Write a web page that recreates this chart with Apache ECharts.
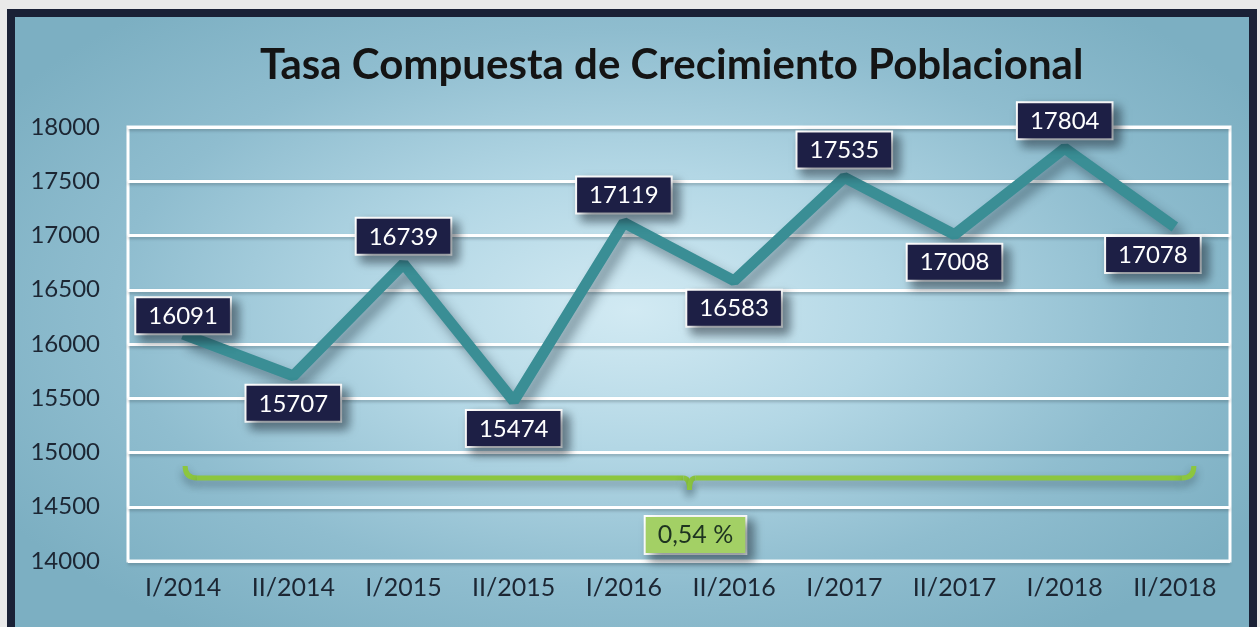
<!DOCTYPE html>
<html>
<head>
<meta charset="UTF-8">
<title>Tasa Compuesta de Crecimiento Poblacional</title>
<script type="text/javascript" src="https://cdn.jsdelivr.net/npm/echarts@6/dist/echarts.min.js"></script>
<style>
    *{margin:0;padding:0}
    html,body{width:100%;height:100%;background:#e9e9e9;overflow:hidden}
    #frame{
        position:absolute;left:7px;top:9px;width:1250px;height:640px;
        background:#1a2136;
    }
    #main{
        position:absolute;left:8px;top:8px;width:1234px;height:610px;
        background:radial-gradient(ellipse 60% 65% at 50% 48%, #d2eaf3 0%, #b3d7e5 35%, #8fbdcf 70%, #7cafc2 100%);
    }
</style>
</head>
<body>
<div id="frame"><div id="main"></div></div>
<script type="text/javascript">
    // datos
    var categorias = ['I/2014','II/2014','I/2015','II/2015','I/2016','II/2016','I/2017','II/2017','I/2018','II/2018'];
    var valores = [16091, 15707, 16739, 15474, 17119, 16583, 17535, 17008, 17804, 17078];
    var posiciones = ['top','bottom','top','bottom','top','bottom','top','bottom','top','bottom'];
    var tasa = '0,54 %';
    var nivelLlave = 14765;

    var fuente = 'Lato, "Open Sans", sans-serif';

    var datos = valores.map(function (v, i) {
        var item = {
            value: v,
            label: { position: posiciones[i], distance: 10 }
        };
        if (i === 0) item.label.distance = 1;
        if (i === 9) item.label.offset = [-22, 0];
        return item;
    });

    var option = {
        animation: false,
        title: {
            text: 'Tasa Compuesta de Crecimiento Poblacional',
            left: 240,
            top: 22,
            textStyle: { fontFamily: fuente, fontSize: 42, fontWeight: 'bold', color: '#141414' }
        },
        grid: {
            left: 113, right: 19, top: 110, bottom: 66,
            show: true, borderColor: '#ffffff', borderWidth: 3,
            backgroundColor: 'transparent'
        },
        xAxis: {
            type: 'category',
            data: categorias,
            boundaryGap: true,
            axisLine: { show: false },
            axisTick: { show: false },
            axisLabel: { fontFamily: fuente, fontSize: 25, color: '#1c2633', margin: 14 }
        },
        yAxis: {
            type: 'value',
            min: 14000, max: 18000, interval: 500,
            axisLine: { show: false },
            axisTick: { show: false },
            axisLabel: {
                fontFamily: fuente, fontSize: 24, color: '#1c2633', margin: 28,
                formatter: function (v) { return String(v); }
            },
            splitLine: {
                lineStyle: { color: '#ffffff', width: 3, shadowColor: 'rgba(60,80,90,0.35)', shadowBlur: 3, shadowOffsetY: 2 }
            }
        },
        series: [{
            type: 'line',
            data: datos,
            symbol: 'circle',
            symbolSize: 0,
            showSymbol: true,
            itemStyle: { color: '#3a8e95' },
            lineStyle: {
                color: '#3a8e95', width: 11,
                shadowColor: 'rgba(20,40,50,0.45)', shadowBlur: 12, shadowOffsetX: 6, shadowOffsetY: 8
            },
            label: {
                show: true,
                fontFamily: fuente, fontSize: 24, color: '#ffffff',
                backgroundColor: '#1d1f45',
                borderColor: '#ffffff', borderWidth: 2,
                padding: [6, 12, 5, 12],
                shadowColor: 'rgba(20,30,40,0.5)', shadowBlur: 10, shadowOffsetX: 6, shadowOffsetY: 6
            },
            z: 3
        }]
    };

    var myChart = echarts.init(document.getElementById('main'));
    myChart.setOption(option);

    // llave verde y etiqueta de la tasa
    var p0 = myChart.convertToPixel({ xAxisIndex: 0, yAxisIndex: 0 }, [0, nivelLlave]);
    var p1 = myChart.convertToPixel({ xAxisIndex: 0, yAxisIndex: 0 }, [categorias.length - 1, nivelLlave]);
    var x0 = p0[0] + 2, x1 = p1[0] + 19, y = p0[1];
    var xm = (x0 + x1) / 2;

    var estilo = {
        fill: null, stroke: '#8cc63f', lineWidth: 5,
        shadowColor: 'rgba(30,50,60,0.45)', shadowBlur: 8, shadowOffsetY: 5
    };
    function curva(a, b, c) {
        return {
            type: 'bezierCurve', z: 2, style: estilo,
            shape: { x1: a[0], y1: a[1], cpx1: b[0], cpy1: b[1], x2: c[0], y2: c[1] }
        };
    }
    function recta(a, b) {
        return {
            type: 'line', z: 2, style: estilo,
            shape: { x1: a[0], y1: a[1], x2: b[0], y2: b[1] }
        };
    }

    myChart.setOption({
        graphic: [
            curva([x0, y - 12], [x0, y], [x0 + 12, y]),
            recta([x0 + 12, y], [xm - 6, y]),
            curva([xm - 6, y], [xm, y], [xm, y + 12]),
            curva([xm, y + 12], [xm, y], [xm + 6, y]),
            recta([xm + 6, y], [x1 - 12, y]),
            curva([x1 - 12, y], [x1, y], [x1, y - 12]),
            {
                type: 'text',
                x: xm + 6, y: y + 57, z: 4,
                style: {
                    text: tasa,
                    fontFamily: fuente, fontSize: 25, fill: '#1e3320',
                    align: 'center', verticalAlign: 'middle',
                    backgroundColor: '#a3d065',
                    borderColor: '#ffffff', borderWidth: 2,
                    padding: [6, 12, 5, 12],
                    shadowColor: 'rgba(20,30,40,0.5)', shadowBlur: 10, shadowOffsetX: 6, shadowOffsetY: 6
                }
            }
        ]
    });
</script>
</body>
</html>
